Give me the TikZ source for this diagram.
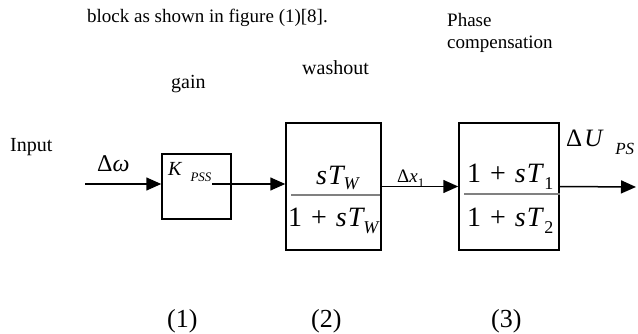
\documentclass[tikz,border=0pt]{standalone}
\usepackage{fontspec}
\setmainfont{Liberation Serif}
\usetikzlibrary{arrows.meta, positioning}

\newcommand{\fsz}[1]{\fontsize{#1}{#1}\selectfont}
\newcommand{\lowsub}[2][7pt]{\raisebox{-#1}{\fsz{18}#2}}

\begin{document}
\begin{tikzpicture}[x=1pt, y=-1pt,
    blk/.style={draw, line width=1.5pt, inner sep=0pt},
    sig/.style={line width=1.5pt, -{Triangle[length=15pt, width=13pt]}},
    frac/.style={gray, line width=1.2pt},
    txt/.style={anchor=base west, inner sep=0pt}]
    \useasboundingbox (0,0) rectangle (638,334);
    % Caption line above the figure
    \node[txt, font=\fsz{19}] (cap) at (87,23) {block as shown in figure (1)[8].};
    % Block titles
    \node[txt, font=\fsz{20}] (tgain) at (171,89) {gain};
    \node[txt, font=\fsz{20}] (twash) at (302,75) {washout};
    \node[txt, font=\fsz{19}] (tphase) at (447,27) {Phase};
    \node[txt, font=\fsz{19}] (tcomp) at (447,49) {compensation};
    \node[txt, font=\fsz{20}] (tin) at (10,152) {Input};
    % Blocks
    \node[blk, minimum width=69pt, minimum height=65pt]  (gain) at (196.5,186.5) {};
    \node[blk, minimum width=95pt, minimum height=127pt] (wash) at (333.5,186.5) {};
    \node[blk, minimum width=100pt, minimum height=127pt] (comp) at (509,186.5) {};
    % Gain block text
    \node[txt, font=\fsz{20}] (kpss) at (168,176)
        {\itshape K\hspace{9pt}\raisebox{-6pt}{\fsz{13}PSS}};
    % Washout fraction (text cut at the box edge)
    \draw[frac] ([xshift=6pt]wash.west |- 0,195) -- (wash.east |- 0,195);
    \begin{scope}
        \clip (wash.north west) rectangle (wash.south east);
        \node[txt, font=\fsz{28}] (wnum) at (316,185) {\itshape s\kern1pt T\lowsub[5pt]{W}};
        \node[txt, font=\fsz{28}] (wden) at (288,226)
            {1\hspace{9pt}+\hspace{9pt}\itshape s\kern1pt T\lowsub{W}};
    \end{scope}
    \node[blk, minimum width=95pt, minimum height=127pt] at (wash) {};
    % Phase compensation fraction
    \draw[frac] ([xshift=6pt]comp.west |- 0,194) -- (comp.east |- 0,194);
    \node[txt, font=\fsz{28}] (cnum) at (467,183)
        {1\hspace{9pt}+\hspace{9pt}{\itshape s\kern1pt T}\hspace{2pt}\lowsub{1}};
    \node[txt, font=\fsz{28}] (cden) at (467,226)
        {1\hspace{9pt}+\hspace{9pt}{\itshape s\kern1pt T}\hspace{2pt}\lowsub{2}};
    % Signal labels
    \node[txt, font=\fsz{24}] (dw) at (97,172) {Δ{\itshape ω}};
    \node[txt, font=\fsz{19}] (dx) at (397,183) {Δ{\itshape x}\lowsub[5pt]{\fsz{13}1}};
    \node[txt, font=\fsz{25}] (du) at (566,147)
        {Δ\kern2pt{\itshape U}\hspace{13pt}\raisebox{-8pt}{\fsz{17}\itshape PS}};
    % Signal arrows
    \coordinate (in) at (85,184);
    \coordinate (kout) at (212,184);
    \coordinate (out) at (636,187);
    \draw[sig] (in) -- (in -| gain.west);
    \draw[sig] (kout) -- (kout -| wash.west);
    \draw[sig] (wash.east) -- (comp.west);
    \draw[sig] (comp.east) -- (out);
    % Block numbers
    \node[txt, font=\fsz{26}] (n1) at (167,327) {(1)};
    \node[txt, font=\fsz{26}] (n2) at (311,327) {(2)};
    \node[txt, font=\fsz{26}] (n3) at (491,327) {(3)};
\end{tikzpicture}
\end{document}
